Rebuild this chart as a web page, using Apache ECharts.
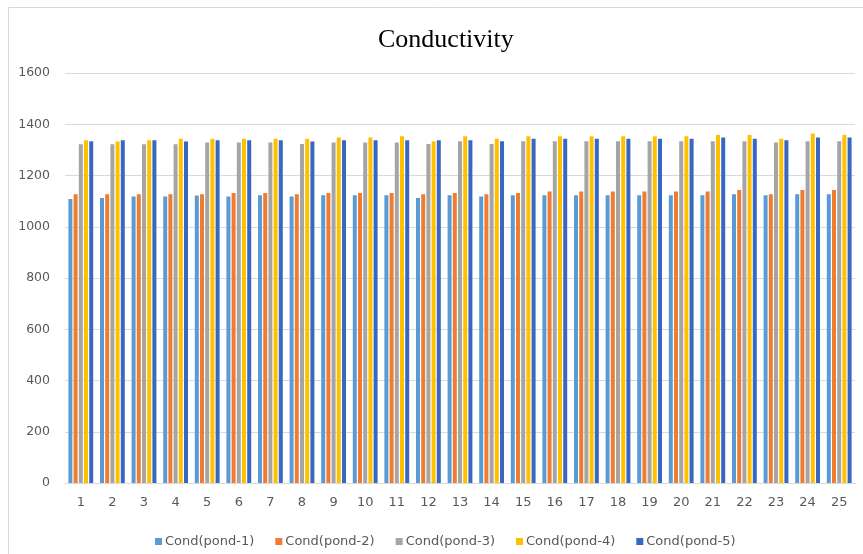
<!DOCTYPE html>
<html>
<head>
<meta charset="utf-8">
<script src="https://cdn.jsdelivr.net/npm/echarts@6/dist/echarts.min.js"></script>
<style>html,body{margin:0;padding:0;background:#fff}#c{width:863px;height:554px}</style>
</head>
<body>
<div id="c"></div>
<script>
const categories = ['1','2','3','4','5','6','7','8','9','10','11','12','13','14','15','16','17','18','19','20','21','22','23','24','25'];
const seriesNames = ['Cond(pond-1)','Cond(pond-2)','Cond(pond-3)','Cond(pond-4)','Cond(pond-5)'];
const pond1 = [1108,1112,1118,1118,1122,1118,1123,1118,1123,1123,1123,1112,1123,1118,1123,1123,1123,1123,1123,1123,1123,1127,1123,1127,1127];
const pond2 = [1127,1127,1127,1127,1127,1132,1132,1127,1132,1132,1132,1127,1132,1127,1132,1138,1138,1138,1138,1138,1138,1143,1127,1143,1143];
const pond3 = [1322,1322,1322,1322,1329,1329,1329,1323,1329,1329,1329,1323,1334,1323,1334,1334,1334,1334,1334,1334,1334,1334,1329,1334,1334];
const pond4 = [1338,1333,1338,1343,1343,1343,1343,1343,1348,1348,1353,1334,1353,1343,1353,1353,1353,1353,1353,1353,1358,1358,1343,1364,1358];
const pond5 = [1334,1338,1338,1333,1338,1338,1338,1333,1338,1338,1338,1338,1338,1334,1343,1343,1343,1343,1343,1343,1348,1343,1338,1348,1348];
const yTicks = [0,200,400,600,800,1000,1200,1400,1600];
const colors = ['#5B9BD5','#ED7D31','#A5A5A5','#FFC000','#3868C2'];

const data = [pond1,pond2,pond3,pond4,pond5];
const chart = echarts.init(document.getElementById('c'));
chart.setOption({
  animation: false,
  color: colors,
  graphic: [{
    type: 'polyline',
    shape: {points: [[8.5, 600], [8.5, 7.5], [900, 7.5]]},
    style: {fill: null, stroke: '#d9d9d9', lineWidth: 1}, silent: true
  }],
  title: {
    text: 'Conductivity', left: 373, top: 22,
    textStyle: {fontFamily: 'Liberation Serif', fontSize: 26, fontWeight: 'normal', color: '#000'}
  },
  legend: {
    data: seriesNames, left: 150, top: 530,
    icon: 'rect', itemWidth: 7, itemHeight: 7, itemGap: 21,
    textStyle: {fontFamily: 'DejaVu Sans', fontSize: 13, color: '#595959', padding: [0,0,0,-2]}
  },
  grid: {left: 65, right: 8, top: 73, bottom: 71},
  xAxis: {
    type: 'category', data: categories,
    axisLine: {lineStyle: {color: '#d9d9d9'}},
    axisTick: {show: false},
    axisLabel: {color: '#595959', fontFamily: 'DejaVu Sans', fontSize: 13, margin: 13}
  },
  yAxis: {
    type: 'value', min: yTicks[0], max: yTicks[yTicks.length-1], interval: 200,
    axisLine: {show: false}, axisTick: {show: false},
    splitLine: {lineStyle: {color: '#d9d9d9'}},
    axisLabel: {color: '#595959', fontFamily: 'DejaVu Sans', fontSize: 12.5, margin: 15,
      formatter: v => String(v)}
  },
  series: seriesNames.map((n, i) => ({
    name: n, type: 'bar', data: data[i], barWidth: 4, barGap: '30%'
  }))
});
</script>
</body>
</html>
